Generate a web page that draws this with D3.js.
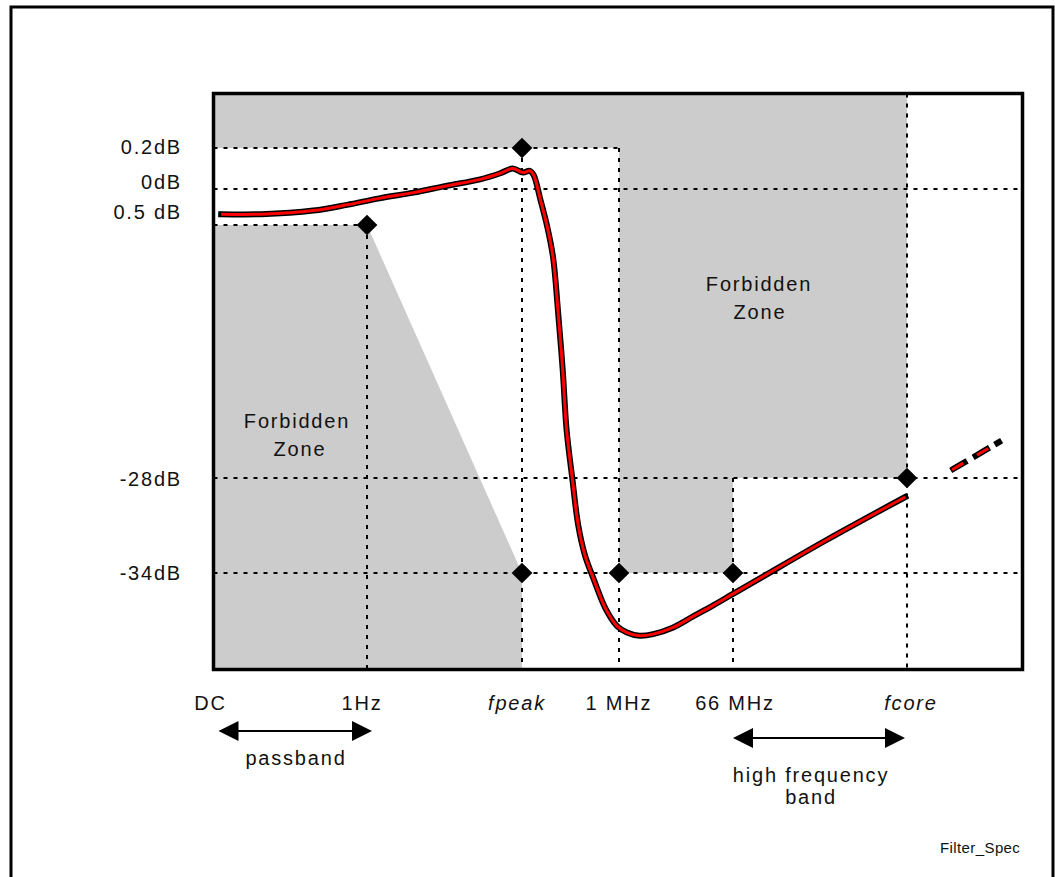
<!DOCTYPE html>
<html>
<head>
<meta charset="utf-8">
<script src="https://cdn.jsdelivr.net/npm/d3@7"></script>
<style>
  body { margin: 0; background: #fff; }
  text { font-family: Arial, 'Liberation Sans', sans-serif; fill: #111; }
</style>
</head>
<body>
<svg id="chart" width="1055" height="877"></svg>
<script>
// tick positions on the (schematic) frequency axis
var xTickPos = [0, 1, 2, 3, 4, 5];
var xTickLabels = ['DC', '1Hz', 'fpeak', '1 MHz', '66 MHz', 'fcore'];
var xTickItalic = [false, false, true, false, false, true];

var yTickValues = [0.2, 0, -0.5, -28, -34];
var yTickLabels = ['0.2dB', '0dB', '0.5 dB', '-28dB', '-34dB'];

// filter response
var responseX = [0.05, 0.31, 0.65, 0.87, 1.08, 1.30, 1.51, 1.73, 1.86, 1.94, 2.01, 2.08, 2.12,
    2.19, 2.26, 2.32, 2.37, 2.42, 2.46, 2.52, 2.58, 2.65, 2.74, 2.86, 2.98, 3.07, 3.18, 3.30,
    3.47, 3.65, 3.83, 4.00, 4.16, 4.54, 4.99];
var responseDb = [-0.35, -0.35, -0.30, -0.22, -0.13, -0.05, 0.015, 0.047, 0.077, 0.10, 0.08, 0.089, 0.068,
    -0.15, -0.68, -4.0, -9.7, -16.3, -22.8, -28.1, -31.0, -32.9, -34.4, -36.2, -37.3, -37.7, -37.9, -37.8,
    -37.4, -36.7, -36.0, -35.3, -34.3, -31.9, -29.2];

// dashed continuation beyond fcore
var extensionX = [5.26, 5.54];
var extensionDb = [-27.1, -24.0];

// spec limit points (diamonds)
var limitX = [2, 1, 2, 3, 4, 5];
var limitDb = [0.2, -0.5, -34, -34, -34, -28];

// forbidden zones
var upperZoneX = [0, 5, 5, 4, 4, 3, 3, 0];
var upperZoneDb = [0.47, 0.47, -28, -28, -34, -34, 0.2, 0.2];
var lowerZoneX = [0, 1, 2, 2, 0];
var lowerZoneDb = [-0.5, -0.5, -34, -40, -40];

// dotted grid lines: [x0, x1, dB] and [x, dB0, dB1]
var hGrid = [[0, 3, 0.2], [0, 5.667, 0], [0, 1, -0.5], [0, 5.667, -28], [0, 5.667, -34]];
var vGrid = [[1, -0.5, -40], [2, 0.2, -40], [3, 0.2, -40], [4, -28, -40], [5, 0.47, -40]];

var grey = '#cccccc';

var x = d3.scaleLinear()
    .domain([0, 1, 2, 3, 4, 5, 5.667])
    .range([213.5, 367, 522, 619, 733, 907, 1022.5]);

var y = d3.scaleLinear()
    .domain([0.47, 0.2, 0, -0.5, -28, -34, -40])
    .range([93.5, 148, 189, 225, 478, 573, 669.5]);

var svg = d3.select('#chart');

// outer border
svg.append('rect')
    .attr('x', 11).attr('y', 7)
    .attr('width', 1042).attr('height', 900)
    .attr('fill', 'none')
    .attr('stroke', '#000')
    .attr('stroke-width', 3);

var zoneLine = d3.line()
    .x(function (d) { return x(d[0]); })
    .y(function (d) { return y(d[1]); });

svg.append('path')
    .attr('d', zoneLine(d3.zip(upperZoneX, upperZoneDb)) + 'Z')
    .attr('fill', grey);

svg.append('path')
    .attr('d', zoneLine(d3.zip(lowerZoneX, lowerZoneDb)) + 'Z')
    .attr('fill', grey);

var grid = svg.append('g')
    .attr('stroke', '#000')
    .attr('stroke-width', 2)
    .attr('stroke-dasharray', '4,6');

grid.selectAll('.hgrid')
    .data(hGrid)
    .enter().append('line')
    .attr('class', 'hgrid')
    .attr('x1', function (d) { return x(d[0]); })
    .attr('x2', function (d) { return x(d[1]); })
    .attr('y1', function (d) { return y(d[2]); })
    .attr('y2', function (d) { return y(d[2]); });

grid.selectAll('.vgrid')
    .data(vGrid)
    .enter().append('line')
    .attr('class', 'vgrid')
    .attr('x1', function (d) { return x(d[0]); })
    .attr('x2', function (d) { return x(d[0]); })
    .attr('y1', function (d) { return y(d[1]); })
    .attr('y2', function (d) { return y(d[2]); });

// response curve: black outline with red core
var curve = d3.line()
    .x(function (d) { return x(d[0]); })
    .y(function (d) { return y(d[1]); })
    .curve(d3.curveCatmullRom.alpha(0.5));

var response = d3.zip(responseX, responseDb);

svg.append('path')
    .attr('d', curve(response))
    .attr('fill', 'none')
    .attr('stroke', '#000')
    .attr('stroke-width', 6)
    .attr('stroke-linecap', 'square');

svg.append('path')
    .attr('d', curve(response))
    .attr('fill', 'none')
    .attr('stroke', '#ff0000')
    .attr('stroke-width', 3);

var ext = d3.zip(extensionX, extensionDb);

svg.append('path')
    .attr('d', zoneLine(ext))
    .attr('fill', 'none')
    .attr('stroke', '#000')
    .attr('stroke-width', 6)
    .attr('stroke-dasharray', '13,13,13,12,2,60')
    .attr('stroke-dashoffset', -1.5)
    .attr('stroke-linecap', 'square');

svg.append('path')
    .attr('d', zoneLine(ext))
    .attr('fill', 'none')
    .attr('stroke', '#ff0000')
    .attr('stroke-width', 3)
    .attr('stroke-dasharray', '13,16,13,15,2,60');

// diamonds
svg.selectAll('.limit')
    .data(d3.zip(limitX, limitDb))
    .enter().append('path')
    .attr('class', 'limit')
    .attr('d', d3.symbol(d3.symbolSquare, 215))
    .attr('transform', function (d) {
        return 'translate(' + x(d[0]) + ',' + y(d[1]) + ') rotate(45)';
    })
    .attr('fill', '#000');

// plot frame
svg.append('rect')
    .attr('x', x(0)).attr('y', y(0.47))
    .attr('width', x(5.667) - x(0))
    .attr('height', y(-40) - y(0.47))
    .attr('fill', 'none')
    .attr('stroke', '#000')
    .attr('stroke-width', 3.5);

// y labels (a couple nudged up so they don't crowd)
var yLabelNudge = [-1, -7, -13, 1, 0];

svg.selectAll('.ylabel')
    .data(yTickValues)
    .enter().append('text')
    .attr('class', 'ylabel')
    .attr('x', 182)
    .attr('y', function (d, i) { return y(d) + yLabelNudge[i]; })
    .attr('dy', '0.35em')
    .attr('text-anchor', 'end')
    .attr('font-size', 20)
    .attr('letter-spacing', 1.8)
    .text(function (d, i) { return yTickLabels[i]; });

var xLabelNudge = [-3, -5, -5, 0, 2, 4];

svg.selectAll('.xlabel')
    .data(xTickPos)
    .enter().append('text')
    .attr('class', 'xlabel')
    .attr('x', function (d, i) { return x(d) + xLabelNudge[i]; })
    .attr('y', 703)
    .attr('dy', '0.35em')
    .attr('text-anchor', 'middle')
    .attr('font-size', 20)
    .attr('letter-spacing', 1.8)
    .attr('font-style', function (d, i) { return xTickItalic[i] ? 'italic' : 'normal'; })
    .text(function (d, i) { return xTickLabels[i]; });

// double-headed arrows
function arrow(x0, x1, yy) {
    var g = svg.append('g');
    g.append('line')
        .attr('x1', x0 + 10).attr('x2', x1 - 10)
        .attr('y1', yy).attr('y2', yy)
        .attr('stroke', '#000')
        .attr('stroke-width', 2);
    g.append('path')
        .attr('d', 'M' + x0 + ',' + yy + 'l20,-10v20z')
        .attr('fill', '#000');
    g.append('path')
        .attr('d', 'M' + x1 + ',' + yy + 'l-20,-10v20z')
        .attr('fill', '#000');
}

arrow(x(0) + 5, x(1) + 5, 731);
arrow(x(4), x(5) - 2, 738);

function label(str, cx, cy, size) {
    svg.append('text')
        .attr('x', cx).attr('y', cy)
        .attr('dy', '0.35em')
        .attr('text-anchor', 'middle')
        .attr('font-size', size || 20)
        .attr('letter-spacing', size ? 0.4 : 1.8)
        .text(str);
}

label('passband', 296, 758);
label('high frequency', 811, 775);
label('band', 811, 797);
label('Forbidden', 297, 421);
label('Zone', 300, 449);
label('Forbidden', 759, 284);
label('Zone', 760, 312);

svg.append('text')
    .attr('x', 940).attr('y', 848)
    .attr('dy', '0.35em')
    .attr('font-size', 15)
    .attr('letter-spacing', 0.4)
    .text('Filter_Spec');
</script>
</body>
</html>
